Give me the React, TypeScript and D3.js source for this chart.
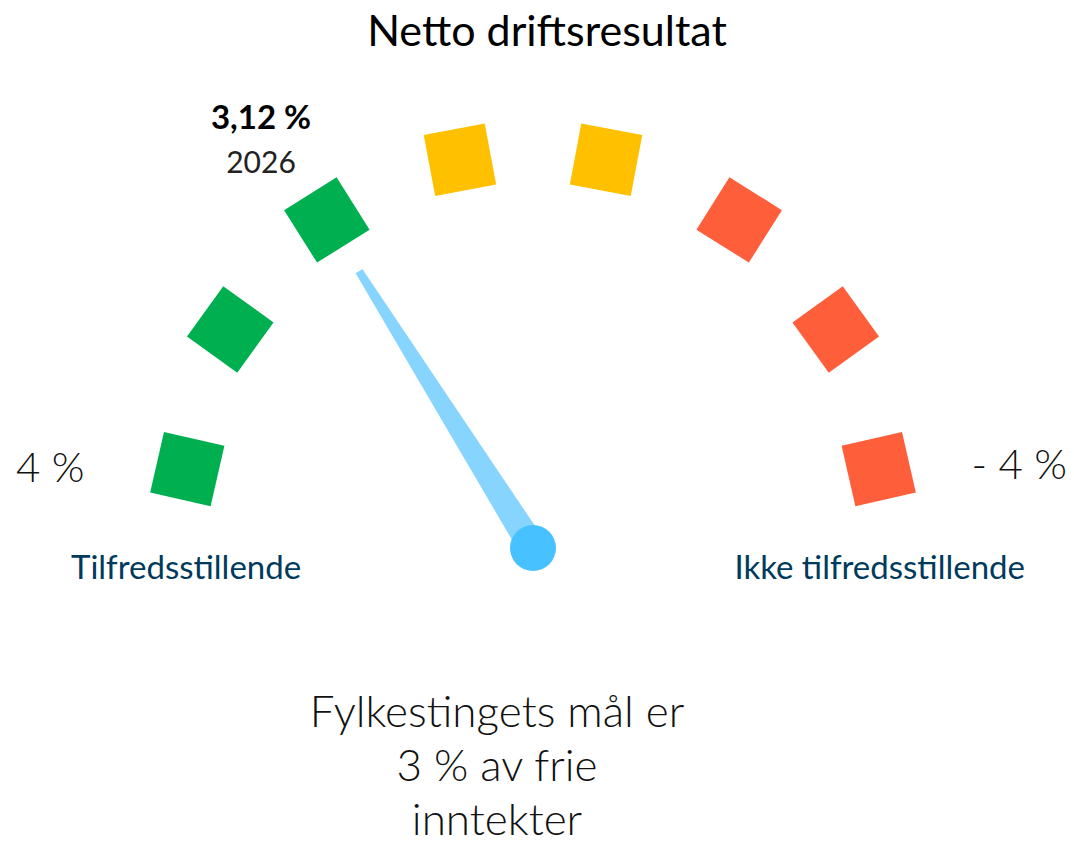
import * as d3 from 'd3';

// Gauge segments, from the left end (4 %) to the right end (-4 %)
const segments = ['g1', 'g2', 'g3', 'y1', 'y2', 'r1', 'r2', 'r3'];
const segmentColors = ['#00B050', '#00B050', '#00B050', '#FFC000', '#FFC000', '#FF5E3A', '#FF5E3A', '#FF5E3A'];
const endLabels = ['4 %', '- 4 %'];
const zoneLabels = ['Tilfredsstillende', 'Ikke tilfredsstillende'];

// Current value and which segment the needle points at
const currentValue = '3,12 %';
const currentYear = '2026';
const pointerIndex = 2;

const title = 'Netto driftsresultat';
const goalLines = ['Fylkestingets mål er', '3 % av frie', 'inntekter'];

const W = 1074;
const H = 845;
const FONT = 'Lato, "Open Sans", sans-serif';

export default function App() {
    // ring geometry
    const cx = 533;
    const cy = 499;
    const R = 347;
    const hub = { x: 533, y: 548 };
    const side = 62;

    const step = 24.3;
    const angle = d3.scaleLinear()
        .domain([0, segments.length - 1])
        .range([90 - step * 3.5, 90 + step * 3.5]);

    const squares = segments.map((id, i) => {
        const a = (angle(i) * Math.PI) / 180;
        const x = cx - R * Math.cos(a);
        const y = cy - R * Math.sin(a);
        // squares face the needle pivot
        const rot = (Math.atan2(hub.y - y, hub.x - x) * 180) / Math.PI;
        return { id, i, x, y, rot, color: segmentColors[i] };
    });

    const target = squares[pointerIndex];
    const dir = Math.atan2(target.y - hub.y, target.x - hub.x);
    const len = 327;
    const tip = { x: hub.x + len * Math.cos(dir), y: hub.y + len * Math.sin(dir) };
    const nx = -Math.sin(dir);
    const ny = Math.cos(dir);
    const baseHalf = 14;
    const tipHalf = 4;
    const needle = d3.line()([
        [hub.x + nx * baseHalf, hub.y + ny * baseHalf],
        [tip.x + nx * tipHalf, tip.y + ny * tipHalf],
        [tip.x - nx * tipHalf, tip.y - ny * tipHalf],
        [hub.x - nx * baseHalf, hub.y - ny * baseHalf],
    ]) + 'Z';

    return (
        <svg width={W} height={H} style={{ position: 'absolute', left: 0, top: 0, background: '#fff' }} fontFamily={FONT}>
            <text x={547} y={46} textAnchor="middle" fontSize={43} fill="#000">{title}</text>

            {squares.map(s => (
                <rect key={s.id}
                    x={-side / 2} y={-side / 2} width={side} height={side}
                    fill={s.color}
                    transform={`translate(${s.x},${s.y}) rotate(${s.rot})`} />
            ))}

            <path d={needle} fill="#87D5FF" />
            <circle cx={hub.x} cy={hub.y} r={23} fill="#47C1FF" />

            <text x={261} y={129} textAnchor="middle" fontSize={33} fontWeight={700} fill="#000">{currentValue}</text>
            <text x={261} y={173} textAnchor="middle" fontSize={30} fill="#222">{currentYear}</text>

            <text x={16} y={482} fontSize={42} fontWeight={300} fill="#111">{endLabels[0]}</text>
            <text x={1067} y={479} textAnchor="end" fontSize={42} fontWeight={300} fill="#111">{endLabels[1]}</text>

            <text x={71} y={579} fontSize={33} fill="#003A5D">{zoneLabels[0]}</text>
            <text x={1025} y={579} textAnchor="end" fontSize={33} fill="#003A5D">{zoneLabels[1]}</text>

            {goalLines.map((t, i) => (
                <text key={t} x={497} y={727 + i * 54} textAnchor="middle" fontSize={44} fontWeight={300} fill="#111">{t}</text>
            ))}
        </svg>
    );
}
